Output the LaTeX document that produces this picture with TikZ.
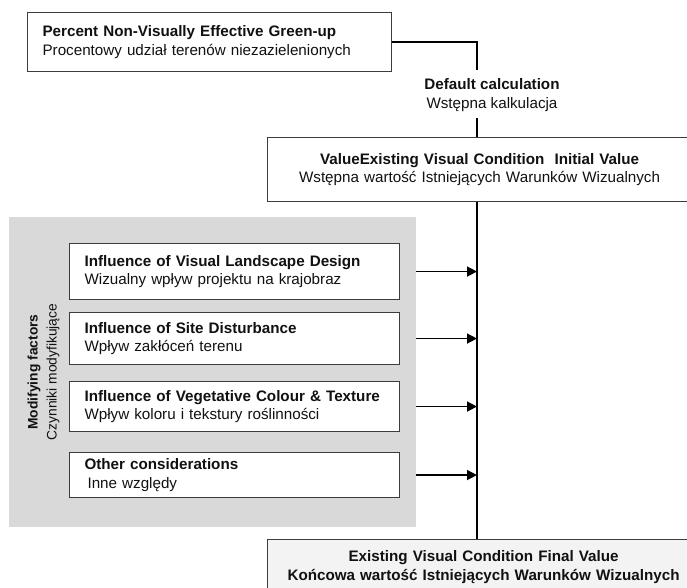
\documentclass[tikz,border=0pt]{standalone}
\usepackage{fontspec}
\setmainfont{Liberation Sans}
\usetikzlibrary{arrows.meta}
\definecolor{boxc}{HTML}{3C3C3C}
\definecolor{panelc}{HTML}{D9D9D9}
\definecolor{finalc}{HTML}{F3F3F3}
\definecolor{txtc}{HTML}{111111}
\begin{document}
\begin{tikzpicture}[x=1pt,y=-1pt,
  lbox/.style={draw=boxc, line width=1.1pt, fill=white, anchor=north west,
    inner xsep=15pt, inner ysep=0pt, align=left, text=txtc,
    font=\fontsize{15.2pt}{18.5pt}\selectfont},
  cbox/.style={draw=boxc, line width=1.1pt, fill=white, anchor=north west,
    inner xsep=15pt, inner ysep=0pt, align=center, text=txtc,
    font=\fontsize{15.2pt}{18.5pt}\selectfont},
  conn/.style={draw=black, line width=1.5pt},
  arr/.style={conn, -{Triangle[length=10pt,width=10pt]}},
  plain/.style={inner sep=0pt, align=center, text=txtc,
    font=\fontsize{15.2pt}{18.5pt}\selectfont}]
\useasboundingbox (0,0) rectangle (687,588);
\clip (0,0) rectangle (687,588);

% top box
\node[lbox, text width=334pt, minimum width=364pt, minimum height=59pt] (top) at (27,12)
  {\textbf{Percent Non-Visually Effective Green-up}\\Procentowy udział terenów niezazielenionych};

% label
\node[plain] (lbl) at (492,95) {\textbf{Default calculation}\\Wstępna kalkulacja};

% middle box
\node[cbox, text width=394pt, minimum width=424pt, minimum height=64pt] (mid) at (267,137)
  {\textbf{ValueExisting Visual Condition\ \ Initial Value}\\Wstępna wartość Istniejących Warunków Wizualnych};

% panel
\node[fill=panelc, anchor=north west, minimum width=407pt, minimum height=310pt, inner sep=0pt] (panel) at (9,217) {};
\node[plain, rotate=90, font=\fontsize{13.8pt}{19pt}\selectfont] (mf) at (43.5,372)
  {\textbf{Modifying factors}\\Czynniki modyfikujące};

% inner boxes
\node[lbox, text width=300pt, minimum width=330pt, minimum height=56pt] (b1) at (69,243)
  {\textbf{Influence of Visual Landscape Design}\\Wizualny wpływ projektu na krajobraz};
\node[lbox, text width=300pt, minimum width=330pt, minimum height=52pt] (b2) at (69,312)
  {\textbf{Influence of Site Disturbance}\\Wpływ zakłóceń terenu};
\node[lbox, text width=300pt, minimum width=330pt, minimum height=50pt] (b3) at (69,381)
  {\textbf{Influence of Vegetative Colour \& Texture}\\Wpływ koloru i tekstury roślinności};
\node[lbox, text width=300pt, minimum width=330pt, minimum height=45pt] (b4) at (69,452)
  {\textbf{Other considerations}\\\hspace*{3pt}Inne względy};

% bottom box
\node[cbox, fill=finalc, text width=402pt, minimum width=432pt, minimum height=55pt] (bot) at (267,539)
  {\textbf{Existing Visual Condition Final Value}\\\textbf{Końcowa wartość Istniejących Warunków Wizualnych}};

% connectors
\coordinate (spine) at (477,0);
\coordinate (j1) at (477,70);
\coordinate (j2) at (477,118);
\draw[conn] (top.east) -| (j1);
\draw[conn] (j2) -- (spine |- mid.north);
\draw[conn] (spine |- mid.south) -- (spine |- bot.north);
\foreach \b in {b1,b2,b3,b4}
  \draw[arr] (panel.east |- \b.east) -- (spine |- \b.east);
\end{tikzpicture}
\end{document}
